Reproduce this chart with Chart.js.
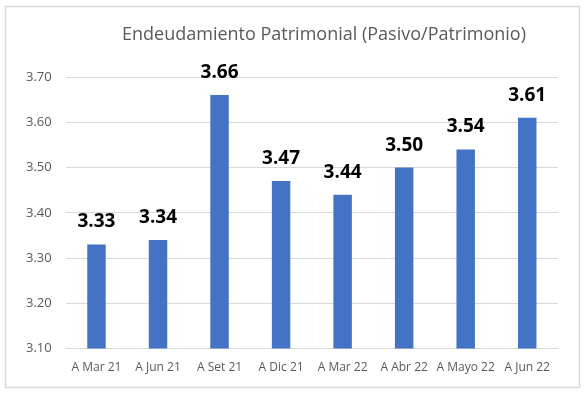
<!DOCTYPE html>
<html>
<head>
<meta charset="utf-8">
<script src="https://cdn.jsdelivr.net/npm/chart.js@4"></script>
<style>
  html, body { margin: 0; padding: 0; background: #fff; }
  #wrap { position: relative; width: 585px; height: 396px; }
</style>
</head>
<body>
<div id="wrap"><canvas id="chart"></canvas></div>
<script>
// Chart data
const categories = ['A Mar 21', 'A Jun 21', 'A Set 21', 'A Dic 21', 'A Mar 22', 'A Abr 22', 'A Mayo 22', 'A Jun 22'];
const ratios = [3.33, 3.34, 3.66, 3.47, 3.44, 3.50, 3.54, 3.61];
const yTicks = [3.10, 3.20, 3.30, 3.40, 3.50, 3.60, 3.70];
const chartTitle = 'Endeudamiento Patrimonial (Pasivo/Patrimonio)';

const FONT = '"Open Sans", "Noto Sans", sans-serif';

// Outer frame + title, drawn like the Excel chart box
const frameAndTitle = {
    id: 'frameAndTitle',
    beforeDraw(chart) {
        const ctx = chart.ctx;
        ctx.save();
        ctx.strokeStyle = '#d9d9d9';
        ctx.lineWidth = 1.5;
        ctx.strokeRect(5.5, 6.5, 574, 381);
        ctx.restore();
    },
    afterDraw(chart) {
        const ctx = chart.ctx;
        ctx.save();
        ctx.font = '18px ' + FONT;
        ctx.fillStyle = '#595959';
        ctx.textAlign = 'center';
        ctx.textBaseline = 'middle';
        ctx.fillText(chartTitle, 324, 35);
        ctx.restore();
    }
};

// Value labels above each bar
const valueLabels = {
    id: 'valueLabels',
    afterDatasetsDraw(chart) {
        const ctx = chart.ctx;
        const meta = chart.getDatasetMeta(0);
        ctx.save();
        ctx.font = 'bold 19px ' + FONT;
        ctx.fillStyle = '#000';
        ctx.textAlign = 'center';
        ctx.textBaseline = 'alphabetic';
        meta.data.forEach((bar, i) => {
            ctx.fillText(ratios[i].toFixed(2), bar.x, bar.y - 17);
        });
        ctx.restore();
    }
};

new Chart(document.getElementById('chart'), {
    type: 'bar',
    data: {
        labels: categories,
        datasets: [{
            data: ratios,
            backgroundColor: '#4472C4',
            borderWidth: 0,
            barPercentage: 0.6,
            categoryPercentage: 0.5
        }]
    },
    options: {
        responsive: true,
        maintainAspectRatio: false,
        animation: false,
        layout: {
            padding: { top: 77, left: 12, right: 27, bottom: 9 }
        },
        scales: {
            y: {
                min: yTicks[0],
                max: yTicks[yTicks.length - 1],
                afterBuildTicks(axis) {
                    axis.ticks = yTicks.map(v => ({ value: v }));
                },
                ticks: {
                    color: '#595959',
                    font: { family: FONT, size: 13 },
                    padding: 14,
                    callback: v => Number(v).toFixed(2)
                },
                grid: { color: '#d9d9d9', lineWidth: 1, drawTicks: false },
                border: { display: false }
            },
            x: {
                ticks: {
                    color: '#595959',
                    font: { family: FONT, size: 12 },
                    padding: 12,
                    maxRotation: 0
                },
                grid: { display: false, drawTicks: false },
                border: { display: false }
            }
        },
        plugins: {
            legend: { display: false },
            title: { display: false },
            tooltip: { enabled: false }
        }
    },
    plugins: [frameAndTitle, valueLabels]
});
</script>
</body>
</html>
